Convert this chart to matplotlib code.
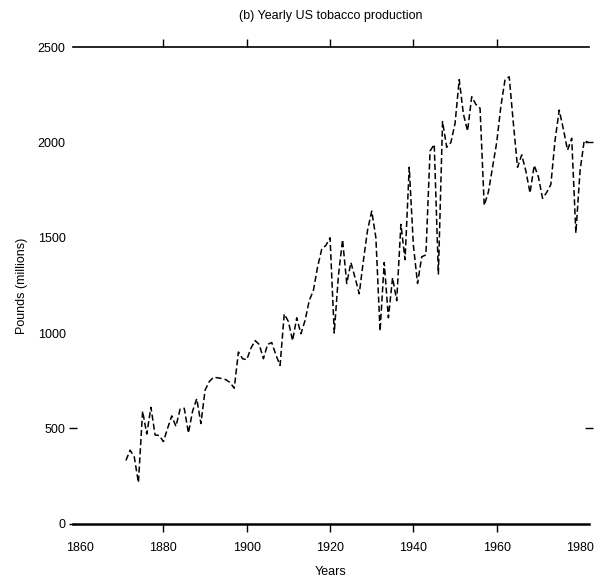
import matplotlib
matplotlib.use("Agg")
import matplotlib.pyplot as plt
import numpy as np

plt.rcParams['font.family'] = ['Liberation Sans', 'DejaVu Sans']

first_year = 1871
production = [
    331, 385, 350, 215, 590, 470, 610, 465, 462, 430,   # 1871-1880
    500, 565, 510, 600, 605, 475, 590, 655, 525, 700,   # 1881-1890
    745, 767, 765, 761, 755, 740, 710, 900, 865, 860,   # 1891-1900
    920, 960, 940, 865, 940, 950, 885, 830, 1100, 1060, # 1901-1910
    960, 1080, 996, 1066, 1170, 1224, 1346, 1440, 1460, 1500,  # 1911-1920
    1000, 1300, 1490, 1260, 1370, 1290, 1206, 1380, 1540, 1640,  # 1921-1930
    1500, 1010, 1370, 1080, 1290, 1170, 1570, 1385, 1870, 1460,  # 1931-1940
    1260, 1400, 1410, 1955, 1990, 1310, 2110, 1975, 2000, 2100,  # 1941-1950
    2330, 2150, 2060, 2240, 2200, 2180, 1670, 1740, 1870, 2000,  # 1951-1960
    2190, 2330, 2345, 2100, 1870, 1935, 1850, 1735, 1880, 1820,  # 1961-1970
    1707, 1738, 1780, 2011, 2170, 2070, 1960, 2022, 1525, 1850,  # 1971-1980
    2010, 2000,                                                  # 1981-1982
]
years = np.arange(first_year, first_year + len(production))

x_ticks = [1860, 1880, 1900, 1920, 1940, 1960, 1980]
x_marks = [1880, 1900, 1920, 1940, 1960]
y_ticks = [0, 500, 1000, 1500, 2000, 2500]
left_marks = [0, 500]
right_marks = [500, 2000]

title = "(b) Yearly US tobacco production"
xlabel = "Years"
ylabel = "Pounds (millions)"

fig = plt.figure(figsize=(6.0, 5.83), dpi=100)
ax = fig.add_axes([0.121, 0.102, 0.861, 0.817])

ax.plot(years, production, color='black', lw=1.1, linestyle=(0, (4, 2)))

ax.set_xlim(1858.2, 1982.2)
ax.set_ylim(0, 2500)

for s in ['left', 'right']:
    ax.spines[s].set_visible(False)
ax.spines['bottom'].set_linewidth(1.8)
ax.spines['top'].set_linewidth(1.2)

ax.xaxis.remove_overlapping_locs = False
ax.yaxis.remove_overlapping_locs = False

ax.set_xticks(x_ticks)
ax.set_xticklabels([str(v) for v in x_ticks])
ax.set_xticks(x_marks, minor=True)
ax.tick_params(axis='x', which='major', length=0, pad=13, labelsize=9)
ax.tick_params(axis='x', which='minor', length=6, width=1, direction='out',
               top=True, bottom=True)

ax.set_yticks(y_ticks)
ax.set_yticklabels([str(v) for v in y_ticks])
ax.set_yticks(left_marks, minor=True)
ax.tick_params(axis='y', which='major', length=0, pad=5, labelsize=9)
ax.tick_params(axis='y', which='minor', length=6, width=1, direction='inout',
               left=True, right=False)

ax2 = ax.twinx()
ax2.set_ylim(0, 2500)
for s in ax2.spines.values():
    s.set_visible(False)
ax2.set_yticks(right_marks)
ax2.set_yticklabels([])
ax2.tick_params(axis='y', length=6, width=1, direction='inout')

ax.set_xlabel(xlabel, fontsize=9, labelpad=9)
ax.set_ylabel(ylabel, fontsize=9, labelpad=7)
ax.set_title(title, fontsize=9, pad=20)

fig.savefig("out.png", dpi=100)
